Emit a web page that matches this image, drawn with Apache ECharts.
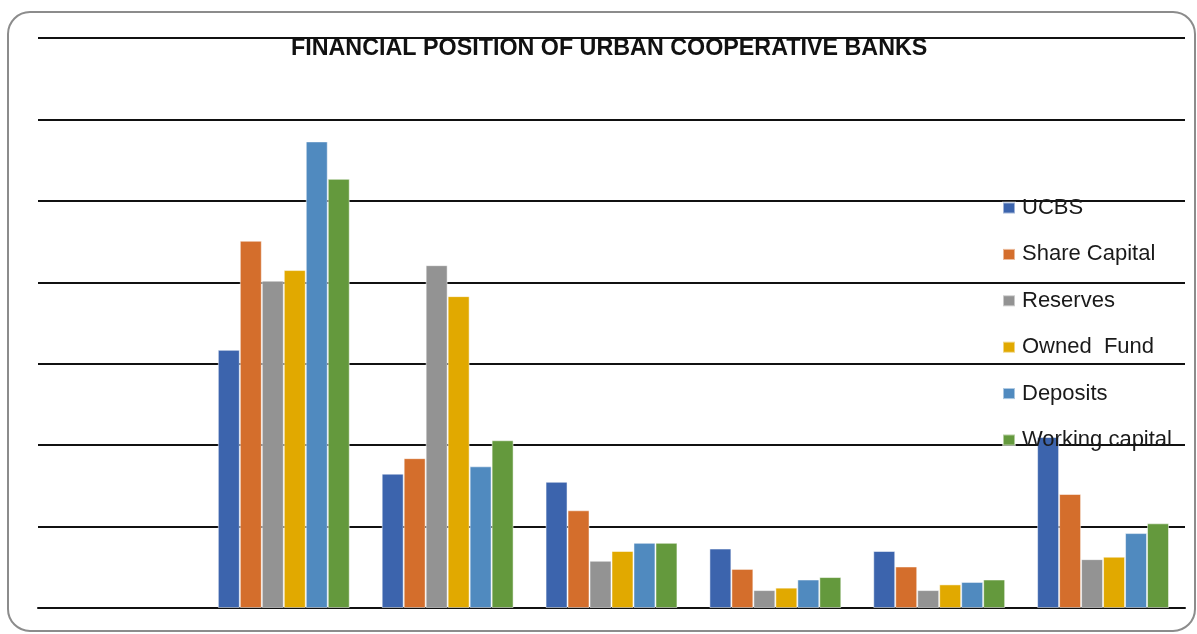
<!DOCTYPE html>
<html>
<head>
<meta charset="utf-8">
<script src="https://cdn.jsdelivr.net/npm/echarts@6/dist/echarts.min.js"></script>
<style>
html,body{margin:0;padding:0;background:#fff;}
#chart{width:1197px;height:634px;}
</style>
</head>
<body>
<div id="chart"></div>
<script>
// Data (y units: gridline steps)
const categories = ['', 'Group 1', 'Group 2', 'Group 3', 'Group 4', 'Group 5', 'Group 6'];
const seriesNames = ['UCBS', 'Share Capital', 'Reserves', 'Owned  Fund', 'Deposits', 'Working capital'];
const ucbs         = [null, 3.17, 1.65, 1.55, 0.73, 0.70, 2.10];
const shareCapital = [null, 4.51, 1.84, 1.20, 0.48, 0.51, 1.40];
const reserves     = [null, 4.02, 4.21, 0.58, 0.22, 0.22, 0.60];
const ownedFund    = [null, 4.15, 3.83, 0.70, 0.25, 0.29, 0.63];
const deposits     = [null, 5.73, 1.74, 0.80, 0.35, 0.32, 0.92];
const workingCap   = [null, 5.27, 2.06, 0.80, 0.38, 0.35, 1.04];
const colors = ['#3c64ad', '#d46e2c', '#939393', '#e1a900', '#508abf', '#64993d'];
const seriesData = [ucbs, shareCapital, reserves, ownedFund, deposits, workingCap];

const chart = echarts.init(document.getElementById('chart'));
chart.setOption({
  animation: false,
  title: {
    text: 'FINANCIAL POSITION OF URBAN COOPERATIVE BANKS',
    left: 291,
    top: 37,
    padding: 0,
    textStyle: { fontFamily: 'Liberation Sans', fontWeight: 'bold', fontSize: 23.3, color: '#111' }
  },
  graphic: [{
    type: 'rect', z: -10, silent: true,
    shape: { x: 8, y: 12, width: 1187, height: 619, r: 22 },
    style: { fill: 'none', stroke: '#8c8c8c', lineWidth: 2 }
  }],
  legend: {
    orient: 'vertical',
    left: 1002,
    top: 197,
    padding: 0,
    itemWidth: 12,
    itemHeight: 11,
    itemGap: 24.4,
    icon: 'rect',
    textStyle: { fontFamily: 'Liberation Sans', fontSize: 22, color: '#1a1a1a', lineHeight: 22, padding: [0, 0, 0, 2] },
    data: seriesNames
  },
  grid: { left: 38, right: 12, top: 38, bottom: 26, containLabel: false },
  xAxis: {
    type: 'category',
    data: categories,
    axisLine: { show: true, lineStyle: { color: '#111', width: 2 } },
    axisTick: { show: false },
    axisLabel: { show: false }
  },
  yAxis: {
    type: 'value',
    min: 0, max: 7, interval: 1,
    axisLine: { show: false },
    axisTick: { show: false },
    axisLabel: { show: false },
    splitLine: { lineStyle: { color: '#111', width: 2 } }
  },
  series: seriesNames.map((n, i) => ({
    name: n,
    type: 'bar',
    data: seriesData[i],
    barGap: '0%',
    barCategoryGap: '19.5%',
    itemStyle: { color: colors[i], borderColor: 'rgba(255,255,255,0.5)', borderWidth: 1 }
  }))
});
</script>
</body>
</html>
